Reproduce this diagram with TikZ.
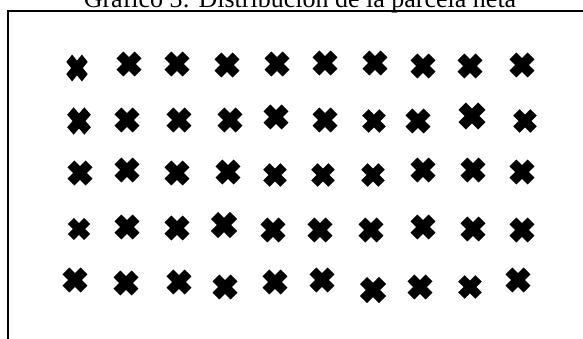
\documentclass[tikz,border=0pt]{standalone}
\usepackage{fontspec}
\setmainfont{Liberation Serif}

\begin{document}
\begin{tikzpicture}[
  x=1pt,y=-1pt,
  frame/.style={line width=2pt},
  plant/.pic={
    \fill[rotate=45] (12.8,4.8) -- (4.8,4.8) -- (4.8,12.8) -- (-4.8,12.8) -- (-4.8,4.8)
      -- (-12.8,4.8) -- (-12.8,-4.8) -- (-4.8,-4.8) -- (-4.8,-12.8) -- (4.8,-12.8)
      -- (4.8,-4.8) -- (12.8,-4.8) -- cycle;
  }
]
\useasboundingbox (0,0) rectangle (583,338);
\clip (0,0) rectangle (583,338);
\node[anchor=base,font=\fontsize{26}{30}\selectfont,inner sep=0pt] (title) at (300,7)
  {Gráfico 3: Distribución de la parcela neta};
\draw[frame] (8,345) -- (8,11) -- (590,11);
% fila 1
\foreach \x/\y/\sx/\sy in {77/68/.86/1.08, 129/64/1/1, 177/64/1/1, 227/65/1/1, 277/64/1/1,
  325/63/1/1, 375/63/1/1, 423/66/1/1, 470/66/1/1, 522/65/1/1}
  \pic[xscale=\sx,yscale=\sy] at (\x,\y) {plant};
% fila 2
\foreach \x/\y/\sx/\sy in {79/121/.95/1.1, 127/120/1/1, 179/120/1/1, 230/120/1/1, 276/117/1/1,
  325/120/1/1, 374/121/.95/.95, 418/121/1/1, 472/116/1.08/1.08, 525/121/.95/.95}
  \pic[xscale=\sx,yscale=\sy] at (\x,\y) {plant};
% fila 3
\foreach \x/\y/\sx/\sy in {80/173/1/1, 127/170/1/1, 177/173/1/1, 228/172/1/1, 275/175/.95/.95,
  323/175/.95/.95, 373/175/.95/.95, 423/170/1/1, 473/170/1/1, 522/172/1/1}
  \pic[xscale=\sx,yscale=\sy] at (\x,\y) {plant};
% fila 4
\foreach \x/\y/\sx/\sy in {79/229/.9/.88, 127/227/1/1, 177/228/1/1, 224/225/1.05/1.05, 273/230/1/1,
  320/230/1/1, 371/230/1/1, 423/227/1/1, 473/229/1/1, 522/230/1/1}
  \pic[xscale=\sx,yscale=\sy] at (\x,\y) {plant};
% fila 5
\foreach \x/\y/\sx/\sy in {75/280/1/1, 126/283/1/1, 179/282/1/1, 225/287/1/1, 275/282/1/1,
  322/280/1/1, 373/290/1.05/1.05, 420/287/1/1, 470/287/.95/.95, 518/280/1/1}
  \pic[xscale=\sx,yscale=\sy] at (\x,\y) {plant};
\end{tikzpicture}
\end{document}
